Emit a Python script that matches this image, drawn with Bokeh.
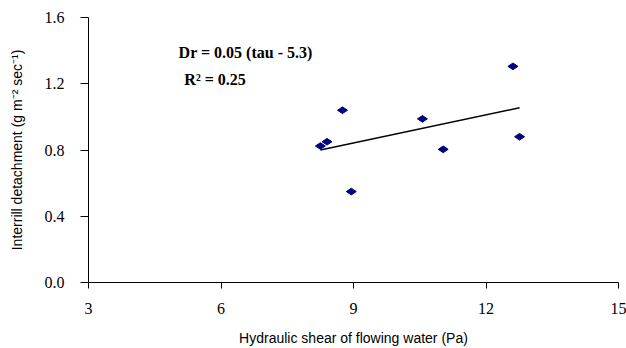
import math
from bokeh.plotting import figure
from bokeh.models import Range1d, Label, FixedTicker, ColumnDataSource, CustomJSTickFormatter
from bokeh.embed import file_html
from bokeh.resources import INLINE

# data
shear = [8.25, 8.40, 8.75, 8.95, 10.56, 11.03, 12.61, 12.76]
detach = [0.824, 0.850, 1.040, 0.549, 0.988, 0.804, 1.305, 0.880]
trend_x = [8.25, 12.76]
trend_y = [0.800, 1.055]
x_ticks = [3, 6, 9, 12, 15]
y_ticks = [0.0, 0.4, 0.8, 1.2, 1.6]
eq_text = "Dr = 0.05 (tau - 5.3)"
r2_text = "R\u00b2 = 0.25"

p = figure(width=626, height=348, output_backend="svg", toolbar_location=None,
           x_range=Range1d(3, 15), y_range=Range1d(0, 1.6),
           min_border_left=88, min_border_right=8, min_border_top=17,
           min_border_bottom=65)
p.outline_line_color = None
p.xgrid.visible = False
p.ygrid.visible = False
p.background_fill_color = "white"
p.border_fill_color = "white"

src = ColumnDataSource(dict(x=shear, y=detach))
p.line(trend_x, trend_y, line_color="black", line_width=1.5)
p.scatter("x", "y", source=src, marker="diamond", size=10, angle=math.pi / 2,
          fill_color="#000080", line_color="#000080")

for ax in (p.xaxis[0], p.yaxis[0]):
    ax.axis_line_color = "black"
    ax.major_tick_line_color = "black"
    ax.minor_tick_line_color = None
    ax.major_label_text_font = "Liberation Serif"
    ax.major_label_text_font_size = "16px"
    ax.major_label_text_color = "black"
    ax.axis_label_text_font = "Liberation Sans"
    ax.axis_label_text_font_size = "14px"
    ax.axis_label_text_font_style = "normal"
    ax.axis_label_text_color = "black"
    ax.major_tick_in = 0

p.xaxis.ticker = FixedTicker(ticks=x_ticks)
p.yaxis.ticker = FixedTicker(ticks=y_ticks)
p.yaxis.formatter = CustomJSTickFormatter(code="return tick.toFixed(1);")
p.xaxis.major_tick_out = 6
p.yaxis.major_tick_out = 8
p.xaxis.major_label_standoff = 14
p.yaxis.major_label_standoff = 16
p.xaxis.axis_label_standoff = 13
p.yaxis.axis_label_standoff = 17
p.xaxis.axis_label = "Hydraulic shear of flowing water (Pa)"
p.yaxis.axis_label = "Interrill detachment (g m\u207b\u00b2 sec\u207b\u00b9)"

p.add_layout(Label(x=5.04, y=1.39, text=eq_text, text_font="Liberation Serif",
                   text_font_style="bold", text_font_size="16px",
                   text_baseline="middle", text_color="black"))
p.add_layout(Label(x=5.17, y=1.227, text=r2_text, text_font="Liberation Serif",
                   text_font_style="bold", text_font_size="16px",
                   text_baseline="middle", text_color="black"))

open("out.html", "w").write(file_html(p, INLINE))
